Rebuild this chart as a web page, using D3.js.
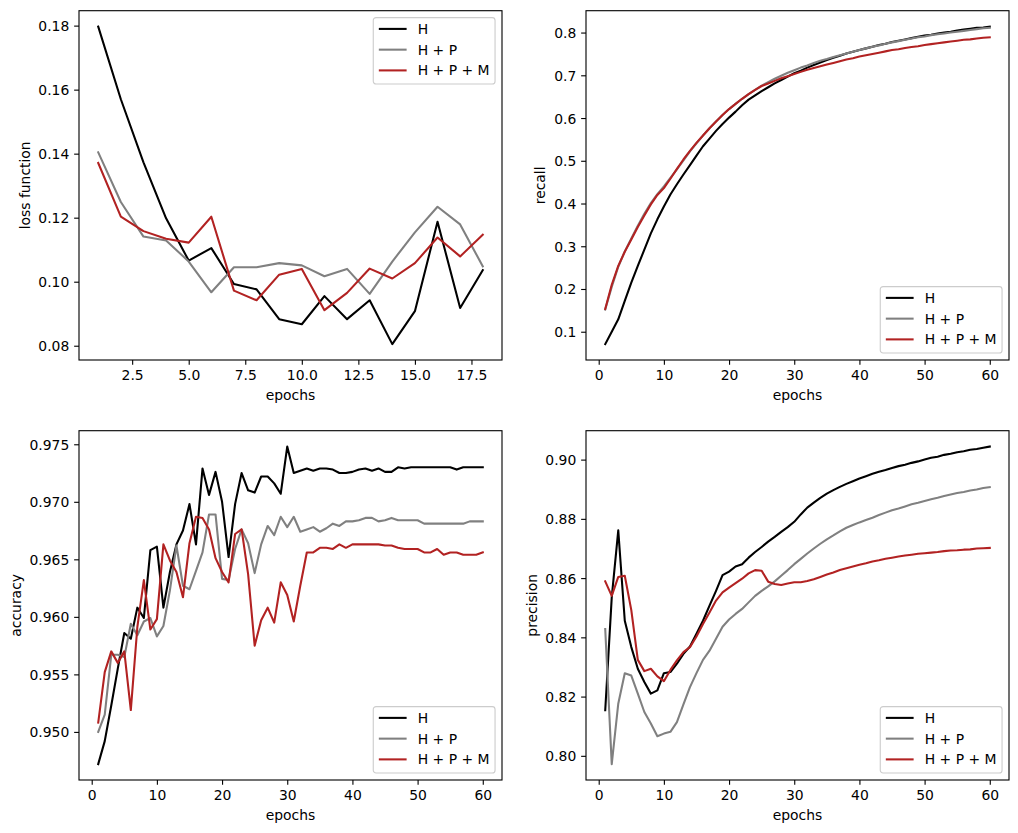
<!DOCTYPE html>
<html>
<head>
<meta charset="utf-8">
<script src="https://cdn.jsdelivr.net/npm/d3@7"></script>
<style>
  body { margin: 0; background: #fff; }
  svg text { font-family: "DejaVu Sans", sans-serif; fill: #000; }
</style>
</head>
<body>
<script>
// training curves, 4 panels

var seriesNames = ['H', 'H + P', 'H + P + M'];
var seriesColors = ['#000000', '#808080', '#b22222'];

var epochsShort = d3.range(1, 19);
var epochsLong = d3.range(1, 61);

var lossH = [0.1797, 0.1570, 0.1373, 0.1198, 0.1066, 0.1105, 0.0993, 0.0976, 0.0883, 0.0867, 0.0955, 0.0883, 0.0942, 0.0805, 0.0908, 0.1187, 0.0918, 0.1036];
var lossHP = [0.1404, 0.1249, 0.1141, 0.1129, 0.1063, 0.0967, 0.1045, 0.1045, 0.1058, 0.1051, 0.1017, 0.1040, 0.0962, 0.1063, 0.1154, 0.1234, 0.1179, 0.1048];
var lossHPM = [0.1371, 0.1203, 0.1158, 0.1134, 0.1122, 0.1203, 0.0972, 0.0942, 0.1022, 0.1040, 0.0911, 0.0965, 0.1041, 0.1010, 0.1058, 0.1138, 0.1079, 0.1147];

var recallH = [0.071, 0.100, 0.129, 0.172, 0.215, 0.254, 0.292, 0.330, 0.363, 0.393,
  0.421, 0.445, 0.468, 0.490, 0.512, 0.534, 0.552, 0.570, 0.586, 0.601,
  0.615, 0.630, 0.643, 0.653, 0.663, 0.672, 0.681, 0.689, 0.697, 0.705,
  0.711, 0.718, 0.724, 0.730, 0.736, 0.741, 0.746, 0.751, 0.755, 0.759,
  0.763, 0.767, 0.771, 0.774, 0.778, 0.781, 0.784, 0.787, 0.790, 0.793,
  0.795, 0.798, 0.800, 0.802, 0.805, 0.807, 0.809, 0.811, 0.812, 0.814];
var recallHP = [0.152, 0.205, 0.252, 0.288, 0.318, 0.348, 0.376, 0.401, 0.422, 0.440,
  0.460, 0.480, 0.501, 0.522, 0.541, 0.559, 0.576, 0.592, 0.607, 0.621,
  0.633, 0.645, 0.656, 0.666, 0.676, 0.684, 0.692, 0.699, 0.706, 0.712,
  0.718, 0.723, 0.729, 0.734, 0.738, 0.743, 0.747, 0.751, 0.755, 0.759,
  0.763, 0.767, 0.770, 0.774, 0.777, 0.780, 0.783, 0.786, 0.789, 0.791,
  0.794, 0.796, 0.798, 0.800, 0.802, 0.804, 0.806, 0.808, 0.810, 0.811];
var recallHPM = [0.153, 0.210, 0.254, 0.287, 0.316, 0.345, 0.372, 0.398, 0.420, 0.436,
  0.458, 0.481, 0.503, 0.523, 0.542, 0.559, 0.576, 0.592, 0.607, 0.621,
  0.633, 0.645, 0.656, 0.666, 0.675, 0.681, 0.687, 0.693, 0.698, 0.703,
  0.708, 0.713, 0.717, 0.721, 0.725, 0.729, 0.733, 0.737, 0.740, 0.744,
  0.747, 0.750, 0.753, 0.756, 0.759, 0.761, 0.764, 0.766, 0.768, 0.771,
  0.773, 0.775, 0.777, 0.779, 0.781, 0.783, 0.784, 0.786, 0.788, 0.789];

var accH = [0.9472, 0.9492, 0.9523, 0.9555, 0.9586, 0.9581, 0.9608, 0.9599, 0.9658, 0.9661,
  0.9608, 0.9639, 0.9663, 0.9675, 0.9698, 0.9663, 0.9729, 0.9706, 0.9726, 0.9700,
  0.9652, 0.9698, 0.9725, 0.9710, 0.9708, 0.9722, 0.9722, 0.9716, 0.9707, 0.9748,
  0.9725, 0.9727, 0.9729, 0.9727, 0.9729, 0.9729, 0.9728, 0.9725, 0.9725, 0.9726,
  0.9728, 0.9729, 0.9727, 0.9729, 0.9726, 0.9726, 0.9730, 0.9729, 0.9730, 0.9730,
  0.9730, 0.9730, 0.9730, 0.9730, 0.9730, 0.9728, 0.9730, 0.9730, 0.9730, 0.9730];
var accHP = [0.9500, 0.9515, 0.9567, 0.9567, 0.9565, 0.9594, 0.9584, 0.9596, 0.9599, 0.9583,
  0.9592, 0.9623, 0.9662, 0.9627, 0.9624, 0.9640, 0.9656, 0.9689, 0.9689, 0.9633,
  0.9632, 0.9659, 0.9676, 0.9664, 0.9638, 0.9663, 0.9679, 0.9671, 0.9687, 0.9678,
  0.9687, 0.9674, 0.9676, 0.9678, 0.9674, 0.9677, 0.9681, 0.9679, 0.9683, 0.9683,
  0.9684, 0.9686, 0.9686, 0.9683, 0.9684, 0.9686, 0.9684, 0.9684, 0.9684, 0.9684,
  0.9681, 0.9681, 0.9681, 0.9681, 0.9681, 0.9681, 0.9681, 0.9683, 0.9683, 0.9683];
var accHPM = [0.9508, 0.9552, 0.9570, 0.9560, 0.9570, 0.9519, 0.9591, 0.9632, 0.9589, 0.9598,
  0.9663, 0.9649, 0.9639, 0.9617, 0.9664, 0.9687, 0.9686, 0.9676, 0.9651, 0.9639,
  0.9630, 0.9672, 0.9676, 0.9637, 0.9575, 0.9597, 0.9608, 0.9595, 0.9630, 0.9619,
  0.9596, 0.9627, 0.9656, 0.9656, 0.9660, 0.9660, 0.9659, 0.9663, 0.9660, 0.9663,
  0.9663, 0.9663, 0.9663, 0.9663, 0.9662, 0.9662, 0.9660, 0.9659, 0.9659, 0.9659,
  0.9656, 0.9656, 0.9659, 0.9654, 0.9656, 0.9656, 0.9654, 0.9654, 0.9654, 0.9656];

var precH = [0.8154, 0.8535, 0.8761, 0.8456, 0.8367, 0.8294, 0.8249, 0.8210, 0.8221, 0.8279,
  0.8283, 0.8311, 0.8344, 0.8369, 0.8412, 0.8456, 0.8507, 0.8557, 0.8610, 0.8622,
  0.8639, 0.8647, 0.8669, 0.8688, 0.8705, 0.8723, 0.8739, 0.8756, 0.8772, 0.8790,
  0.8815, 0.8838, 0.8855, 0.8871, 0.8885, 0.8897, 0.8908, 0.8918, 0.8927, 0.8936,
  0.8944, 0.8952, 0.8959, 0.8965, 0.8972, 0.8978, 0.8983, 0.8989, 0.8994, 0.9000,
  0.9006, 0.9010, 0.9016, 0.9020, 0.9025, 0.9028, 0.9033, 0.9036, 0.9040, 0.9044];
var precHP = [0.8428, 0.7972, 0.8176, 0.8279, 0.8271, 0.8210, 0.8148, 0.8109, 0.8066, 0.8075,
  0.8081, 0.8114, 0.8174, 0.8232, 0.8279, 0.8324, 0.8355, 0.8395, 0.8436, 0.8460,
  0.8479, 0.8496, 0.8518, 0.8540, 0.8557, 0.8572, 0.8589, 0.8608, 0.8627, 0.8647,
  0.8665, 0.8683, 0.8700, 0.8716, 0.8731, 0.8744, 0.8758, 0.8770, 0.8779, 0.8788,
  0.8796, 0.8804, 0.8813, 0.8821, 0.8829, 0.8835, 0.8842, 0.8849, 0.8854, 0.8860,
  0.8866, 0.8871, 0.8877, 0.8882, 0.8887, 0.8891, 0.8896, 0.8899, 0.8904, 0.8907];
var precHPM = [0.8589, 0.8540, 0.8604, 0.8608, 0.8492, 0.8324, 0.8286, 0.8294, 0.8268, 0.8252,
  0.8290, 0.8322, 0.8350, 0.8367, 0.8403, 0.8445, 0.8484, 0.8524, 0.8552, 0.8568,
  0.8583, 0.8598, 0.8616, 0.8627, 0.8625, 0.8588, 0.8580, 0.8577, 0.8582, 0.8586,
  0.8586, 0.8590, 0.8596, 0.8604, 0.8612, 0.8619, 0.8627, 0.8633, 0.8639, 0.8645,
  0.8650, 0.8656, 0.8660, 0.8665, 0.8669, 0.8673, 0.8676, 0.8679, 0.8682, 0.8684,
  0.8686, 0.8688, 0.8691, 0.8693, 0.8694, 0.8696, 0.8697, 0.8700, 0.8701, 0.8702];

var lossXTicks = [2.5, 5.0, 7.5, 10.0, 12.5, 15.0, 17.5];
var longXTicks = [0, 10, 20, 30, 40, 50, 60];
var lossYTicks = [0.08, 0.10, 0.12, 0.14, 0.16, 0.18];
var recallYTicks = [0.1, 0.2, 0.3, 0.4, 0.5, 0.6, 0.7, 0.8];
var accYTicks = [0.950, 0.955, 0.960, 0.965, 0.970, 0.975];
var precYTicks = [0.80, 0.82, 0.84, 0.86, 0.88, 0.90];

var createSvg = function() {
  let width = 1018, height = 833;
  let fs = 13.9;          // 10pt at 100dpi
  let tickLen = 4.86, tickPad = 4.86;
  let axW = 423, axH = 349.3;

  let svg = d3.select('body').append('svg')
    .attr('width', width)
    .attr('height', height);

  let panels = [
    { left: 79, top: 10.7, x: epochsShort, ys: [lossH, lossHP, lossHPM], ylabel: 'loss function',
      xticks: lossXTicks, xfmt: '.1f', yticks: lossYTicks, yfmt: '.2f', legend: 'upper', ylabelX: 29.6 },
    { left: 586, top: 10.7, x: epochsLong, ys: [recallH, recallHP, recallHPM], ylabel: 'recall',
      xticks: longXTicks, xfmt: 'd', yticks: recallYTicks, yfmt: '.1f', legend: 'lower', ylabelX: 545.3 },
    { left: 79, top: 430.7, x: epochsLong, ys: [accH, accHP, accHPM], ylabel: 'accuracy',
      xticks: longXTicks, xfmt: 'd', yticks: accYTicks, yfmt: '.3f', legend: 'lower', ylabelX: 20.6 },
    { left: 586, top: 430.7, x: epochsLong, ys: [precH, precHP, precHPM], ylabel: 'precision',
      xticks: longXTicks, xfmt: 'd', yticks: precYTicks, yfmt: '.2f', legend: 'lower', ylabelX: 536.5 }
  ];

  panels.forEach(p => {
    // matplotlib style 5% margins
    let xExt = d3.extent(p.x);
    let xPad = (xExt[1] - xExt[0]) * 0.05;
    let all = [].concat(...p.ys);
    let yExt = d3.extent(all);
    let yPad = (yExt[1] - yExt[0]) * 0.05;

    let x = d3.scaleLinear().domain([xExt[0] - xPad, xExt[1] + xPad]).range([0, axW]);
    let y = d3.scaleLinear().domain([yExt[0] - yPad, yExt[1] + yPad]).range([axH, 0]);

    let g = svg.append('g').attr('transform', `translate(${p.left},${p.top})`);

    let clipId = 'clip' + p.left + '_' + Math.round(p.top);
    g.append('clipPath').attr('id', clipId)
      .append('rect').attr('width', axW).attr('height', axH);

    // lines
    let line = d3.line().x((d, i) => x(p.x[i])).y(d => y(d));
    g.append('g').attr('clip-path', `url(#${clipId})`)
      .selectAll('path')
      .data(p.ys)
      .enter()
      .append('path')
      .attr('d', d => line(d))
      .attr('fill', 'none')
      .attr('stroke', (d, i) => seriesColors[i])
      .attr('stroke-width', 2.08)
      .attr('stroke-linejoin', 'round')
      .attr('stroke-linecap', 'square');

    // axes
    let xAxis = d3.axisBottom(x).tickValues(p.xticks).tickFormat(d3.format(p.xfmt))
      .tickSizeInner(tickLen).tickSizeOuter(0).tickPadding(tickPad);
    let yAxis = d3.axisLeft(y).tickValues(p.yticks).tickFormat(d3.format(p.yfmt))
      .tickSizeInner(tickLen).tickSizeOuter(0).tickPadding(tickPad);

    let gx = g.append('g').attr('transform', `translate(0,${axH})`).call(xAxis);
    let gy = g.append('g').call(yAxis);
    [gx, gy].forEach(a => {
      a.select('.domain').remove();
      a.selectAll('line').attr('stroke', '#000').attr('stroke-width', 1.11);
      a.selectAll('text')
        .style('font-family', '"DejaVu Sans", sans-serif')
        .style('font-size', fs + 'px')
        .attr('fill', '#000');
    });
    gx.selectAll('text').attr('dy', null).attr('y', tickLen + tickPad + 10.6);
    gy.selectAll('text').attr('dy', null).attr('dominant-baseline', 'central');

    // frame
    g.append('rect')
      .attr('width', axW).attr('height', axH)
      .attr('fill', 'none').attr('stroke', '#000').attr('stroke-width', 1.11);

    // labels
    svg.append('text')
      .attr('x', p.left + axW / 2).attr('y', p.top + axH + 39.5)
      .attr('text-anchor', 'middle')
      .style('font-size', fs + 'px')
      .text('epochs');
    svg.append('text')
      .attr('transform', `translate(${p.ylabelX},${p.top + axH / 2}) rotate(-90)`)
      .attr('text-anchor', 'middle')
      .style('font-size', fs + 'px')
      .text(p.ylabel);

    // legend
    let rowH = 13.8, labelSpace = 0.5 * fs, pad = 0.4 * fs;
    let handleLen = 2.0 * fs, textPad = 0.8 * fs;
    let leg = g.append('g');
    let box = leg.append('rect');
    let rows = leg.selectAll('g.row')
      .data(seriesNames)
      .enter()
      .append('g')
      .attr('class', 'row')
      .attr('transform', (d, i) => `translate(${pad},${pad + i * (rowH + labelSpace)})`);
    rows.append('line')
      .attr('x1', 0).attr('x2', handleLen)
      .attr('y1', rowH / 2 - 1.2).attr('y2', rowH / 2 - 1.2)
      .attr('stroke', (d, i) => seriesColors[i])
      .attr('stroke-width', 2.08);
    let labels = rows.append('text')
      .attr('x', handleLen + textPad).attr('y', 10.6)
      .style('font-size', fs + 'px')
      .text(d => d);
    let textW = d3.max(labels.nodes(), n => n.getComputedTextLength());
    let legW = pad * 2 + handleLen + textPad + textW;
    let legH = pad * 2 + 3 * rowH + 2 * labelSpace;
    box.attr('width', legW).attr('height', legH)
      .attr('rx', 2.8).attr('ry', 2.8)
      .attr('fill', 'rgba(255,255,255,0.8)')
      .attr('stroke', '#cccccc').attr('stroke-width', 1.1);
    let bap = 0.5 * fs;
    let lx = axW - bap - legW;
    let ly = p.legend === 'upper' ? bap : axH - bap - legH;
    leg.attr('transform', `translate(${lx},${ly})`);
  });
}

var load = function() {
  createSvg();
}

load();
</script>
</body>
</html>
